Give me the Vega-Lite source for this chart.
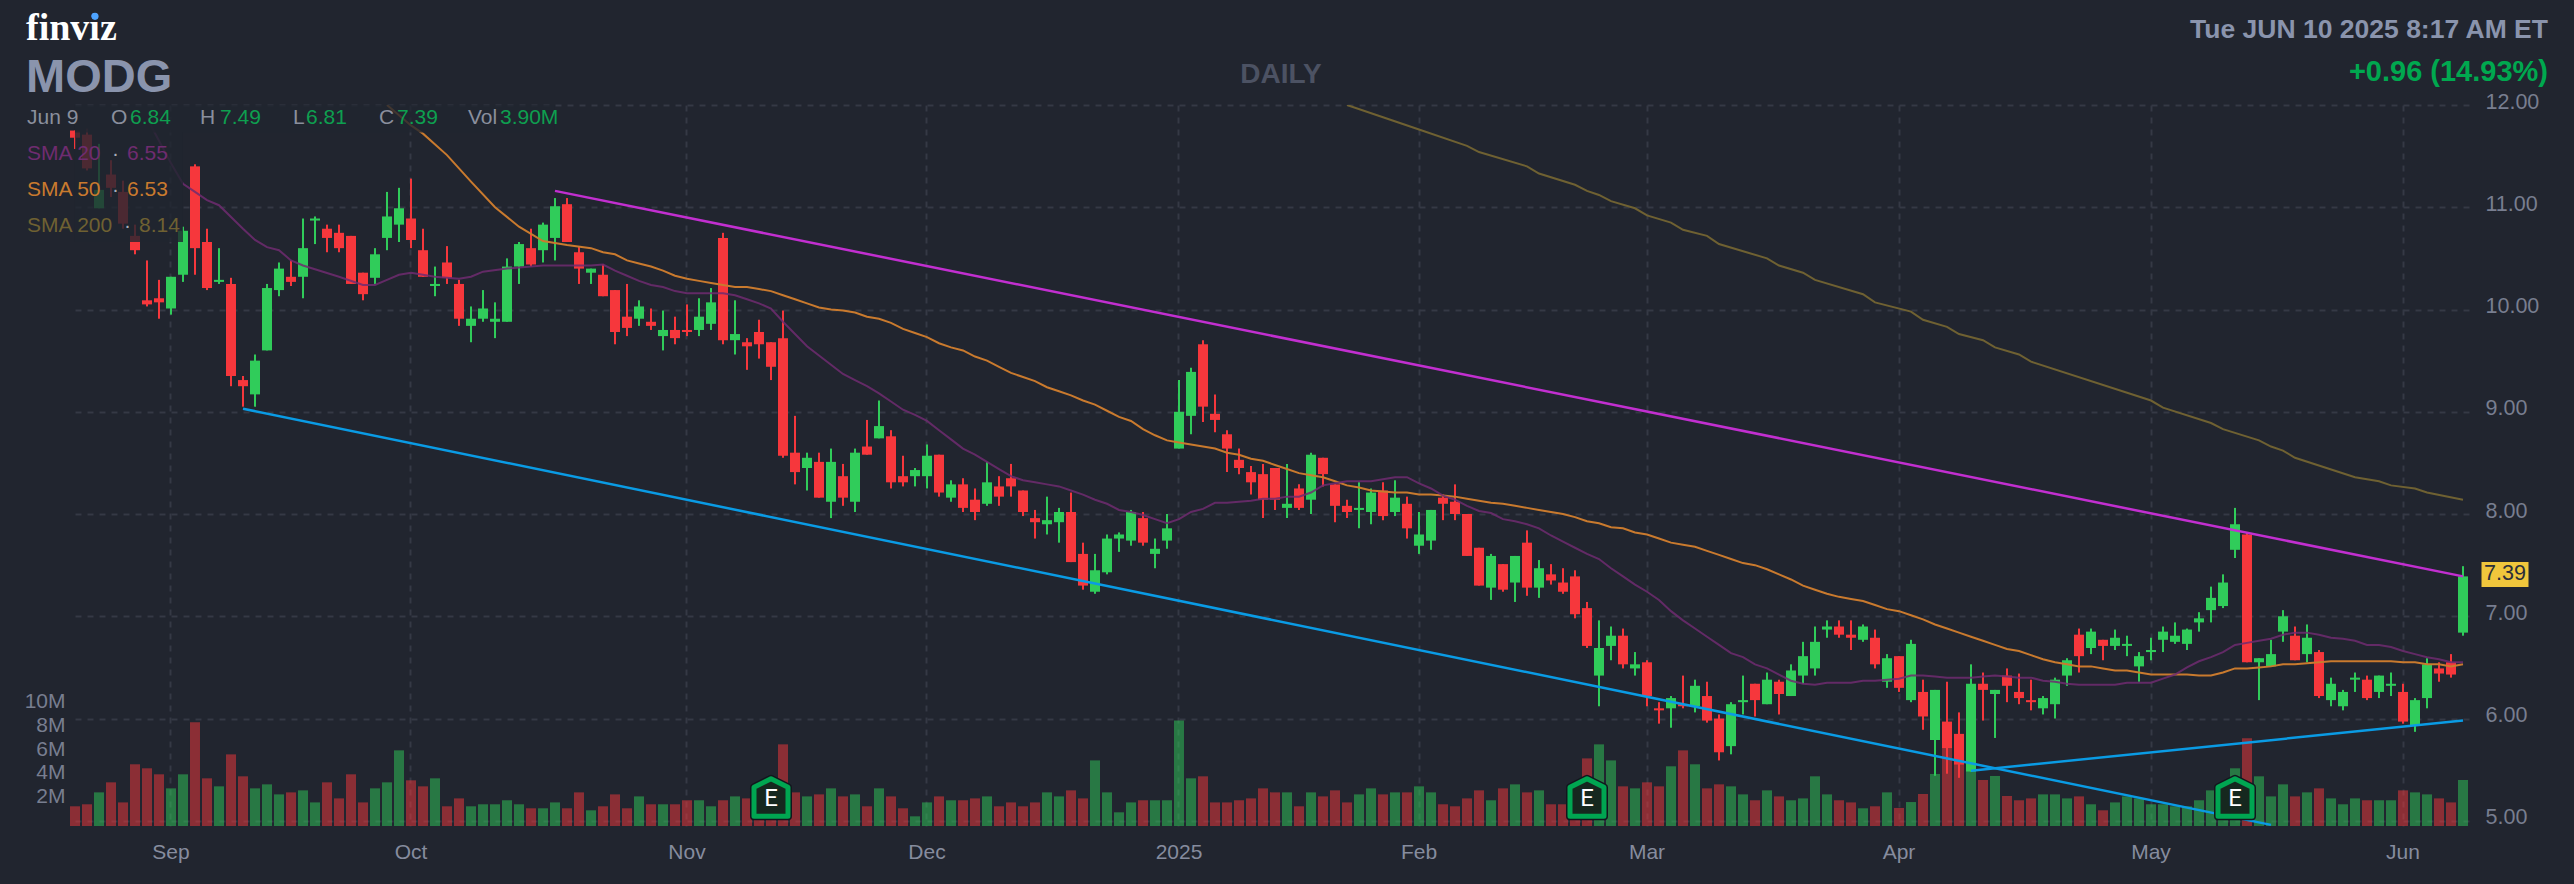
{
"$schema":"https://vega.github.io/schema/vega-lite/v6.json",
"description":"MODG daily candlestick chart with volume, moving averages and trend lines.",
"width":2400,"height":721,"autosize":{"type":"none"},
"padding":{"left":69,"top":105,"right":105,"bottom":58},
"background":"#21252f",
"config":{"view":{"stroke":null},"text":{"font":"Liberation Sans","baseline":"alphabetic"}},
"datasets":{"bars":[
{"date":"2024-08-21","o":11.75,"h":11.75,"l":11.57,"c":11.68,"v":1670000},
{"date":"2024-08-22","o":11.71,"h":11.77,"l":11.36,"c":11.38,"v":1840000},
{"date":"2024-08-23","o":10.99,"h":11.62,"l":10.99,"c":11.17,"v":2850000},
{"date":"2024-08-26","o":11.32,"h":11.46,"l":11.10,"c":11.19,"v":3700000},
{"date":"2024-08-27","o":11.15,"h":11.26,"l":10.79,"c":10.84,"v":2000000},
{"date":"2024-08-28","o":10.72,"h":10.83,"l":10.54,"c":10.58,"v":5230000},
{"date":"2024-08-29","o":10.09,"h":10.48,"l":10.03,"c":10.05,"v":4890000,"sma20":11.87},
{"date":"2024-08-30","o":10.11,"h":10.29,"l":9.91,"c":10.07,"v":4380000},
{"date":"2024-09-03","o":10.01,"h":10.32,"l":9.95,"c":10.32,"v":3190000,"sma20":11.43},
{"date":"2024-09-04","o":10.34,"h":10.81,"l":10.27,"c":10.77,"v":4380000,"sma20":11.23},
{"date":"2024-09-05","o":11.40,"h":11.42,"l":10.34,"c":10.60,"v":8790000,"sma20":11.15},
{"date":"2024-09-06","o":10.66,"h":10.79,"l":10.19,"c":10.21,"v":4040000,"sma20":11.07},
{"date":"2024-09-09","o":10.27,"h":10.60,"l":10.25,"c":10.29,"v":3360000,"sma20":11.02},
{"date":"2024-09-10","o":10.25,"h":10.31,"l":9.25,"c":9.35,"v":6070000},
{"date":"2024-09-11","o":9.31,"h":9.35,"l":9.05,"c":9.25,"v":4210000,"sma20":10.79},
{"date":"2024-09-12","o":9.17,"h":9.56,"l":9.05,"c":9.50,"v":3190000,"sma20":10.68},
{"date":"2024-09-13","o":9.60,"h":10.25,"l":9.60,"c":10.21,"v":3530000,"sma20":10.61},
{"date":"2024-09-16","o":10.19,"h":10.46,"l":10.13,"c":10.40,"v":2680000,"sma20":10.58},
{"date":"2024-09-17","o":10.32,"h":10.48,"l":10.23,"c":10.27,"v":2850000,"sma20":10.48},
{"date":"2024-09-18","o":10.32,"h":10.89,"l":10.11,"c":10.60,"v":3020000,"sma20":10.43},
{"date":"2024-09-19","o":10.87,"h":10.91,"l":10.64,"c":10.89,"v":2000000},
{"date":"2024-09-20","o":10.79,"h":10.83,"l":10.56,"c":10.70,"v":3700000},
{"date":"2024-09-23","o":10.75,"h":10.83,"l":10.56,"c":10.60,"v":2340000,"sma20":10.32},
{"date":"2024-09-24","o":10.72,"h":10.72,"l":10.25,"c":10.25,"v":4380000},
{"date":"2024-09-25","o":10.36,"h":10.36,"l":10.09,"c":10.15,"v":2000000,"sma20":10.24},
{"date":"2024-09-26","o":10.31,"h":10.60,"l":10.25,"c":10.54,"v":3190000,"sma20":10.24},
{"date":"2024-09-27","o":10.70,"h":11.15,"l":10.58,"c":10.91,"v":3700000,"sma20":10.29,"sma50":12.00},
{"date":"2024-09-30","o":10.83,"h":11.19,"l":10.66,"c":10.99,"v":6410000,"sma20":10.34},
{"date":"2024-10-01","o":10.89,"h":11.28,"l":10.60,"c":10.68,"v":3870000,"sma20":10.36,"sma50":11.80},
{"date":"2024-10-02","o":10.58,"h":10.79,"l":10.32,"c":10.32,"v":3360000,"sma50":11.72},
{"date":"2024-10-03","o":10.23,"h":10.42,"l":10.13,"c":10.25,"v":4040000,"sma20":10.32},
{"date":"2024-10-04","o":10.46,"h":10.62,"l":10.25,"c":10.31,"v":1670000,"sma50":11.51},
{"date":"2024-10-07","o":10.25,"h":10.29,"l":9.84,"c":9.91,"v":2340000,"sma20":10.30},
{"date":"2024-10-08","o":9.84,"h":10.03,"l":9.68,"c":9.91,"v":1670000,"sma20":10.32,"sma50":11.25},
{"date":"2024-10-09","o":9.91,"h":10.19,"l":9.88,"c":10.01,"v":1840000,"sma20":10.37},
{"date":"2024-10-10","o":9.88,"h":10.07,"l":9.72,"c":9.91,"v":1840000,"sma50":11.00},
{"date":"2024-10-11","o":9.88,"h":10.50,"l":9.88,"c":10.42,"v":2180000,"sma20":10.40},
{"date":"2024-10-14","o":10.42,"h":10.66,"l":10.25,"c":10.64,"v":1840000,"sma50":10.81},
{"date":"2024-10-15","o":10.60,"h":10.79,"l":10.42,"c":10.44,"v":1500000,"sma20":10.42},
{"date":"2024-10-16","o":10.58,"h":10.85,"l":10.46,"c":10.83,"v":1500000,"sma20":10.43,"sma50":10.67},
{"date":"2024-10-17","o":10.70,"h":11.09,"l":10.48,"c":11.01,"v":2000000},
{"date":"2024-10-18","o":11.03,"h":11.09,"l":10.66,"c":10.66,"v":1500000,"sma20":10.43,"sma50":10.63},
{"date":"2024-10-21","o":10.56,"h":10.62,"l":10.25,"c":10.40,"v":2850000},
{"date":"2024-10-22","o":10.36,"h":10.40,"l":10.25,"c":10.40,"v":1330000,"sma20":10.43,"sma50":10.60},
{"date":"2024-10-23","o":10.34,"h":10.44,"l":10.13,"c":10.13,"v":1670000,"sma20":10.44,"sma50":10.56},
{"date":"2024-10-24","o":10.19,"h":10.19,"l":9.66,"c":9.78,"v":2680000,"sma20":10.38,"sma50":10.54},
{"date":"2024-10-25","o":9.93,"h":10.25,"l":9.74,"c":9.82,"v":1500000,"sma20":10.33,"sma50":10.48},
{"date":"2024-10-28","o":9.91,"h":10.09,"l":9.84,"c":10.03,"v":2510000,"sma20":10.28,"sma50":10.45},
{"date":"2024-10-29","o":9.88,"h":10.01,"l":9.80,"c":9.84,"v":1840000,"sma20":10.24,"sma50":10.42},
{"date":"2024-10-30","o":9.74,"h":9.99,"l":9.60,"c":9.80,"v":1840000,"sma20":10.22,"sma50":10.38},
{"date":"2024-10-31","o":9.80,"h":9.93,"l":9.66,"c":9.72,"v":1840000,"sma20":10.18,"sma50":10.33},
{"date":"2024-11-01","o":9.80,"h":10.05,"l":9.74,"c":9.78,"v":2180000,"sma20":10.16,"sma50":10.30},
{"date":"2024-11-04","o":9.80,"h":10.11,"l":9.74,"c":9.93,"v":2180000,"sma20":10.16,"sma50":10.28},
{"date":"2024-11-05","o":9.86,"h":10.21,"l":9.80,"c":10.07,"v":1670000,"sma20":10.16,"sma50":10.26},
{"date":"2024-11-06","o":10.70,"h":10.75,"l":9.66,"c":9.70,"v":2180000,"sma20":10.16,"sma50":10.24},
{"date":"2024-11-07","o":9.70,"h":10.09,"l":9.56,"c":9.76,"v":2510000,"sma20":10.14,"sma50":10.22},
{"date":"2024-11-08","o":9.68,"h":9.72,"l":9.41,"c":9.64,"v":2340000,"sma20":10.10,"sma50":10.22},
{"date":"2024-11-11","o":9.78,"h":9.90,"l":9.52,"c":9.66,"v":2000000,"sma20":10.06,"sma50":10.20},
{"date":"2024-11-12","o":9.68,"h":9.68,"l":9.31,"c":9.44,"v":2200000,"sma20":10.01,"sma50":10.18},
{"date":"2024-11-13","o":9.72,"h":9.99,"l":8.55,"c":8.57,"v":6920000,"sma20":9.88,"sma50":10.14},
{"date":"2024-11-14","o":8.60,"h":8.96,"l":8.29,"c":8.41,"v":2850000,"sma20":9.76,"sma50":10.10},
{"date":"2024-11-15","o":8.45,"h":8.60,"l":8.23,"c":8.55,"v":2510000,"sma20":9.64,"sma50":10.06},
{"date":"2024-11-18","o":8.51,"h":8.60,"l":8.16,"c":8.16,"v":2680000,"sma20":9.55,"sma50":10.02},
{"date":"2024-11-19","o":8.12,"h":8.64,"l":7.96,"c":8.51,"v":3190000,"sma20":9.46,"sma50":10.00},
{"date":"2024-11-20","o":8.37,"h":8.49,"l":8.08,"c":8.16,"v":2510000,"sma20":9.37,"sma50":9.99},
{"date":"2024-11-21","o":8.12,"h":8.64,"l":8.02,"c":8.60,"v":2680000,"sma20":9.31,"sma50":9.97},
{"date":"2024-11-22","o":8.66,"h":8.92,"l":8.58,"c":8.58,"v":1670000,"sma20":9.25,"sma50":9.93},
{"date":"2024-11-25","o":8.74,"h":9.11,"l":8.74,"c":8.86,"v":3190000,"sma20":9.18,"sma50":9.91},
{"date":"2024-11-26","o":8.76,"h":8.82,"l":8.25,"c":8.31,"v":2510000,"sma20":9.10,"sma50":9.87},
{"date":"2024-11-27","o":8.37,"h":8.57,"l":8.27,"c":8.31,"v":1500000,"sma20":9.02,"sma50":9.81},
{"date":"2024-11-29","o":8.37,"h":8.45,"l":8.27,"c":8.43,"v":820000,"sma20":8.97,"sma50":9.77},
{"date":"2024-12-02","o":8.37,"h":8.68,"l":8.25,"c":8.57,"v":2000000,"sma20":8.91,"sma50":9.73},
{"date":"2024-12-03","o":8.58,"h":8.58,"l":8.17,"c":8.21,"v":2510000,"sma20":8.82,"sma50":9.67},
{"date":"2024-12-04","o":8.16,"h":8.33,"l":8.12,"c":8.29,"v":2180000,"sma20":8.73,"sma50":9.63},
{"date":"2024-12-05","o":8.29,"h":8.35,"l":8.02,"c":8.06,"v":2180000,"sma20":8.64,"sma50":9.60},
{"date":"2024-12-06","o":8.14,"h":8.25,"l":7.94,"c":8.02,"v":2340000,"sma20":8.58,"sma50":9.54},
{"date":"2024-12-09","o":8.10,"h":8.51,"l":8.08,"c":8.31,"v":2510000,"sma20":8.51,"sma50":9.50},
{"date":"2024-12-10","o":8.27,"h":8.37,"l":8.08,"c":8.17,"v":1670000,"sma20":8.44,"sma50":9.44},
{"date":"2024-12-11","o":8.35,"h":8.49,"l":8.17,"c":8.27,"v":2000000,"sma20":8.37,"sma50":9.38},
{"date":"2024-12-12","o":8.23,"h":8.23,"l":7.98,"c":8.02,"v":1670000,"sma20":8.33,"sma50":9.34},
{"date":"2024-12-13","o":7.96,"h":8.04,"l":7.76,"c":7.92,"v":2000000,"sma20":8.31,"sma50":9.30},
{"date":"2024-12-16","o":7.90,"h":8.17,"l":7.80,"c":7.94,"v":2850000,"sma20":8.29,"sma50":9.24},
{"date":"2024-12-17","o":7.92,"h":8.06,"l":7.72,"c":8.02,"v":2510000,"sma20":8.27,"sma50":9.20},
{"date":"2024-12-18","o":8.02,"h":8.21,"l":7.53,"c":7.53,"v":3020000,"sma20":8.23,"sma50":9.16},
{"date":"2024-12-19","o":7.61,"h":7.72,"l":7.26,"c":7.30,"v":2340000,"sma20":8.19,"sma50":9.11},
{"date":"2024-12-20","o":7.24,"h":7.61,"l":7.22,"c":7.45,"v":5560000,"sma20":8.14,"sma50":9.07},
{"date":"2024-12-23","o":7.43,"h":7.80,"l":7.41,"c":7.76,"v":2850000,"sma20":8.10,"sma50":9.01},
{"date":"2024-12-24","o":7.76,"h":7.82,"l":7.63,"c":7.80,"v":1160000,"sma20":8.04,"sma50":8.95},
{"date":"2024-12-26","o":7.74,"h":8.04,"l":7.69,"c":8.02,"v":2000000,"sma20":8.02,"sma50":8.91},
{"date":"2024-12-27","o":7.96,"h":8.02,"l":7.69,"c":7.72,"v":2180000,"sma20":7.99,"sma50":8.83},
{"date":"2024-12-30","o":7.61,"h":7.76,"l":7.47,"c":7.66,"v":2180000,"sma20":7.95,"sma50":8.77},
{"date":"2024-12-31","o":7.74,"h":8.00,"l":7.66,"c":7.86,"v":2180000,"sma20":7.91,"sma50":8.72},
{"date":"2025-01-02","o":8.64,"h":9.31,"l":8.64,"c":9.00,"v":8950000,"sma20":7.95,"sma50":8.70},
{"date":"2025-01-03","o":8.96,"h":9.43,"l":8.78,"c":9.39,"v":4040000,"sma20":8.02,"sma50":8.68},
{"date":"2025-01-06","o":9.66,"h":9.70,"l":8.90,"c":9.05,"v":4210000,"sma20":8.05,"sma50":8.66},
{"date":"2025-01-07","o":8.98,"h":9.17,"l":8.80,"c":8.92,"v":2000000,"sma20":8.11,"sma50":8.64},
{"date":"2025-01-08","o":8.78,"h":8.82,"l":8.41,"c":8.64,"v":2000000,"sma20":8.11,"sma50":8.60},
{"date":"2025-01-10","o":8.53,"h":8.64,"l":8.39,"c":8.45,"v":2180000,"sma20":8.12,"sma50":8.58},
{"date":"2025-01-13","o":8.41,"h":8.47,"l":8.19,"c":8.31,"v":2340000,"sma20":8.13,"sma50":8.54},
{"date":"2025-01-14","o":8.39,"h":8.49,"l":7.96,"c":8.14,"v":3190000,"sma20":8.15,"sma50":8.52},
{"date":"2025-01-15","o":8.45,"h":8.45,"l":8.04,"c":8.14,"v":2850000,"sma20":8.15,"sma50":8.48},
{"date":"2025-01-16","o":8.06,"h":8.49,"l":7.96,"c":8.10,"v":2850000,"sma20":8.17,"sma50":8.44},
{"date":"2025-01-17","o":8.25,"h":8.29,"l":8.04,"c":8.06,"v":1670000,"sma20":8.17,"sma50":8.40},
{"date":"2025-01-21","o":8.14,"h":8.60,"l":8.00,"c":8.58,"v":2850000,"sma20":8.21,"sma50":8.38},
{"date":"2025-01-22","o":8.55,"h":8.55,"l":8.27,"c":8.39,"v":2510000,"sma20":8.28,"sma50":8.36},
{"date":"2025-01-23","o":8.29,"h":8.29,"l":7.92,"c":8.08,"v":3020000,"sma20":8.30,"sma50":8.32},
{"date":"2025-01-24","o":8.08,"h":8.14,"l":7.96,"c":8.02,"v":2000000,"sma20":8.32,"sma50":8.28,"sma200":12.00},
{"date":"2025-01-27","o":8.04,"h":8.31,"l":7.86,"c":8.06,"v":2680000,"sma20":8.32,"sma50":8.26},
{"date":"2025-01-28","o":8.02,"h":8.25,"l":7.90,"c":8.21,"v":3190000,"sma20":8.32,"sma50":8.23},
{"date":"2025-01-29","o":8.23,"h":8.31,"l":7.94,"c":7.98,"v":2680000,"sma20":8.34,"sma50":8.22,"sma200":11.88},
{"date":"2025-01-30","o":8.02,"h":8.33,"l":7.98,"c":8.16,"v":2850000,"sma20":8.36,"sma50":8.21},
{"date":"2025-01-31","o":8.10,"h":8.17,"l":7.76,"c":7.86,"v":2850000,"sma20":8.36,"sma50":8.21},
{"date":"2025-02-03","o":7.69,"h":8.02,"l":7.61,"c":7.80,"v":3360000,"sma20":8.30,"sma50":8.19,"sma200":11.76},
{"date":"2025-02-04","o":7.74,"h":8.04,"l":7.65,"c":8.04,"v":2850000,"sma20":8.25,"sma50":8.19},
{"date":"2025-02-05","o":8.16,"h":8.19,"l":7.94,"c":8.10,"v":1840000,"sma20":8.18,"sma50":8.18},
{"date":"2025-02-06","o":8.12,"h":8.29,"l":7.94,"c":8.00,"v":1670000,"sma20":8.14,"sma50":8.17},
{"date":"2025-02-07","o":8.00,"h":8.00,"l":7.59,"c":7.59,"v":2340000,"sma20":8.08,"sma50":8.15,"sma200":11.60},
{"date":"2025-02-10","o":7.67,"h":7.67,"l":7.30,"c":7.30,"v":3020000,"sma20":8.03,"sma50":8.13,"sma200":11.54},
{"date":"2025-02-11","o":7.28,"h":7.61,"l":7.16,"c":7.59,"v":2180000,"sma20":8.01,"sma50":8.11},
{"date":"2025-02-12","o":7.51,"h":7.51,"l":7.24,"c":7.26,"v":3190000,"sma20":7.95,"sma50":8.10},
{"date":"2025-02-13","o":7.33,"h":7.59,"l":7.14,"c":7.59,"v":3530000,"sma20":7.93,"sma50":8.08},
{"date":"2025-02-14","o":7.72,"h":7.84,"l":7.20,"c":7.28,"v":2850000,"sma20":7.90,"sma50":8.06,"sma200":11.40},
{"date":"2025-02-18","o":7.28,"h":7.55,"l":7.18,"c":7.47,"v":3020000,"sma20":7.86,"sma50":8.04,"sma200":11.33},
{"date":"2025-02-19","o":7.41,"h":7.51,"l":7.31,"c":7.35,"v":1840000,"sma20":7.79,"sma50":8.02},
{"date":"2025-02-20","o":7.33,"h":7.47,"l":7.22,"c":7.24,"v":1840000,"sma20":7.73,"sma50":8.00},
{"date":"2025-02-21","o":7.39,"h":7.45,"l":6.98,"c":7.02,"v":2000000,"sma20":7.67,"sma50":7.97,"sma200":11.22},
{"date":"2025-02-24","o":7.08,"h":7.14,"l":6.69,"c":6.71,"v":5730000,"sma20":7.61,"sma50":7.93,"sma200":11.16},
{"date":"2025-02-25","o":6.42,"h":6.96,"l":6.12,"c":6.69,"v":6920000,"sma20":7.56,"sma50":7.91,"sma200":11.12},
{"date":"2025-02-26","o":6.71,"h":6.90,"l":6.57,"c":6.81,"v":5560000,"sma20":7.47,"sma50":7.87,"sma200":11.06},
{"date":"2025-02-27","o":6.81,"h":6.88,"l":6.49,"c":6.53,"v":3360000,"sma20":7.39,"sma50":7.86},
{"date":"2025-02-28","o":6.49,"h":6.65,"l":6.42,"c":6.53,"v":3190000,"sma20":7.31,"sma50":7.82,"sma200":10.99},
{"date":"2025-03-03","o":6.55,"h":6.57,"l":6.12,"c":6.22,"v":3700000,"sma20":7.24,"sma50":7.80,"sma200":10.92},
{"date":"2025-03-04","o":6.10,"h":6.16,"l":5.95,"c":6.08,"v":3360000,"sma20":7.16,"sma50":7.76},
{"date":"2025-03-05","o":6.10,"h":6.22,"l":5.91,"c":6.20,"v":5060000,"sma20":7.05,"sma50":7.72,"sma200":10.85},
{"date":"2025-03-06","o":6.14,"h":6.42,"l":6.10,"c":6.12,"v":6410000,"sma20":6.96,"sma50":7.70,"sma200":10.78},
{"date":"2025-03-07","o":6.12,"h":6.38,"l":6.06,"c":6.32,"v":5230000,"sma20":6.88,"sma50":7.68},
{"date":"2025-03-10","o":6.22,"h":6.36,"l":5.96,"c":5.98,"v":3190000,"sma20":6.80,"sma50":7.64,"sma200":10.72},
{"date":"2025-03-11","o":6.00,"h":6.04,"l":5.59,"c":5.67,"v":3530000,"sma20":6.72,"sma50":7.60,"sma200":10.64},
{"date":"2025-03-12","o":5.73,"h":6.16,"l":5.65,"c":6.14,"v":3360000,"sma20":6.64,"sma50":7.56},
{"date":"2025-03-13","o":6.16,"h":6.42,"l":6.04,"c":6.18,"v":2680000,"sma20":6.60,"sma50":7.52},
{"date":"2025-03-14","o":6.34,"h":6.34,"l":6.02,"c":6.18,"v":2180000,"sma20":6.53,"sma50":7.50},
{"date":"2025-03-17","o":6.14,"h":6.45,"l":6.14,"c":6.38,"v":3020000,"sma20":6.49,"sma50":7.46,"sma200":10.50},
{"date":"2025-03-18","o":6.36,"h":6.38,"l":6.04,"c":6.24,"v":2510000,"sma20":6.43,"sma50":7.41,"sma200":10.43},
{"date":"2025-03-19","o":6.22,"h":6.53,"l":6.22,"c":6.47,"v":2180000,"sma20":6.37,"sma50":7.36},
{"date":"2025-03-20","o":6.42,"h":6.75,"l":6.34,"c":6.61,"v":2340000,"sma20":6.34,"sma50":7.30,"sma200":10.36},
{"date":"2025-03-21","o":6.49,"h":6.90,"l":6.42,"c":6.75,"v":4210000,"sma20":6.33,"sma50":7.26,"sma200":10.29},
{"date":"2025-03-24","o":6.87,"h":6.96,"l":6.79,"c":6.90,"v":2680000,"sma20":6.35,"sma50":7.22},
{"date":"2025-03-25","o":6.90,"h":6.96,"l":6.79,"c":6.82,"v":2180000,"sma20":6.35,"sma50":7.19},
{"date":"2025-03-26","o":6.82,"h":6.96,"l":6.67,"c":6.79,"v":2000000,"sma20":6.35,"sma50":7.17},
{"date":"2025-03-27","o":6.77,"h":6.92,"l":6.75,"c":6.90,"v":1500000,"sma20":6.37,"sma50":7.15,"sma200":10.15},
{"date":"2025-03-28","o":6.79,"h":6.87,"l":6.49,"c":6.53,"v":1670000,"sma20":6.37,"sma50":7.11,"sma200":10.07},
{"date":"2025-03-31","o":6.36,"h":6.63,"l":6.30,"c":6.59,"v":2850000,"sma20":6.38,"sma50":7.07},
{"date":"2025-04-01","o":6.61,"h":6.61,"l":6.26,"c":6.30,"v":1530000,"sma20":6.39,"sma50":7.05},
{"date":"2025-04-02","o":6.18,"h":6.77,"l":6.16,"c":6.73,"v":2030000,"sma20":6.42,"sma50":7.01,"sma200":9.98},
{"date":"2025-04-03","o":6.26,"h":6.38,"l":5.89,"c":6.02,"v":2710000,"sma20":6.42,"sma50":6.97,"sma200":9.90},
{"date":"2025-04-04","o":5.79,"h":6.28,"l":5.44,"c":6.28,"v":4410000,"sma20":6.41,"sma50":6.92},
{"date":"2025-04-07","o":5.97,"h":6.36,"l":5.46,"c":5.71,"v":6600000,"sma20":6.40,"sma50":6.88,"sma200":9.83},
{"date":"2025-04-08","o":5.85,"h":6.06,"l":5.42,"c":5.55,"v":6800000,"sma20":6.40,"sma50":6.84,"sma200":9.76},
{"date":"2025-04-09","o":5.48,"h":6.53,"l":5.48,"c":6.34,"v":4580000,"sma20":6.40,"sma50":6.80},
{"date":"2025-04-10","o":6.34,"h":6.45,"l":5.98,"c":6.28,"v":3900000,"sma20":6.41,"sma50":6.76,"sma200":9.70},
{"date":"2025-04-11","o":6.24,"h":6.28,"l":5.81,"c":6.28,"v":4240000,"sma20":6.42,"sma50":6.72,"sma200":9.63},
{"date":"2025-04-14","o":6.42,"h":6.49,"l":6.16,"c":6.32,"v":2540000,"sma20":6.41,"sma50":6.68},
{"date":"2025-04-15","o":6.26,"h":6.44,"l":6.14,"c":6.20,"v":2180000,"sma20":6.40,"sma50":6.66,"sma200":9.56},
{"date":"2025-04-16","o":6.18,"h":6.38,"l":6.08,"c":6.16,"v":2340000,"sma20":6.40,"sma50":6.62,"sma200":9.49},
{"date":"2025-04-17","o":6.10,"h":6.22,"l":6.04,"c":6.20,"v":2680000,"sma20":6.37,"sma50":6.58},
{"date":"2025-04-21","o":6.14,"h":6.40,"l":6.00,"c":6.38,"v":2680000,"sma20":6.36,"sma50":6.55},
{"date":"2025-04-22","o":6.42,"h":6.59,"l":6.32,"c":6.57,"v":2340000,"sma20":6.34,"sma50":6.53},
{"date":"2025-04-23","o":6.82,"h":6.88,"l":6.45,"c":6.61,"v":2510000,"sma20":6.33,"sma50":6.51},
{"date":"2025-04-24","o":6.69,"h":6.88,"l":6.63,"c":6.85,"v":1840000,"sma20":6.33,"sma50":6.51},
{"date":"2025-04-25","o":6.77,"h":6.77,"l":6.57,"c":6.71,"v":1330000,"sma20":6.33,"sma50":6.49},
{"date":"2025-04-28","o":6.71,"h":6.87,"l":6.67,"c":6.79,"v":2000000,"sma20":6.33,"sma50":6.47},
{"date":"2025-04-29","o":6.71,"h":6.81,"l":6.61,"c":6.73,"v":2510000,"sma20":6.35,"sma50":6.47},
{"date":"2025-04-30","o":6.51,"h":6.65,"l":6.36,"c":6.61,"v":2340000,"sma20":6.35,"sma50":6.45},
{"date":"2025-05-01","o":6.65,"h":6.79,"l":6.57,"c":6.67,"v":1840000,"sma20":6.35,"sma50":6.43,"sma200":9.11},
{"date":"2025-05-02","o":6.77,"h":6.90,"l":6.65,"c":6.85,"v":1840000,"sma20":6.39,"sma50":6.43,"sma200":9.04},
{"date":"2025-05-05","o":6.75,"h":6.94,"l":6.73,"c":6.81,"v":1670000,"sma20":6.43,"sma50":6.43},
{"date":"2025-05-06","o":6.73,"h":6.88,"l":6.67,"c":6.87,"v":1670000,"sma20":6.50,"sma50":6.43},
{"date":"2025-05-07","o":6.94,"h":7.04,"l":6.85,"c":6.98,"v":2180000,"sma20":6.56,"sma50":6.42},
{"date":"2025-05-08","o":7.06,"h":7.29,"l":6.94,"c":7.18,"v":3020000,"sma20":6.60,"sma50":6.42,"sma200":8.89},
{"date":"2025-05-09","o":7.10,"h":7.41,"l":7.08,"c":7.33,"v":2340000,"sma20":6.65,"sma50":6.45,"sma200":8.83},
{"date":"2025-05-12","o":7.65,"h":8.06,"l":7.57,"c":7.90,"v":4890000,"sma20":6.72,"sma50":6.49},
{"date":"2025-05-13","o":7.80,"h":7.82,"l":6.55,"c":6.55,"v":7430000,"sma20":6.74,"sma50":6.49},
{"date":"2025-05-14","o":6.55,"h":6.59,"l":6.18,"c":6.59,"v":4210000,"sma20":6.76,"sma50":6.50,"sma200":8.72},
{"date":"2025-05-15","o":6.51,"h":6.77,"l":6.51,"c":6.63,"v":2510000,"sma20":6.78,"sma50":6.51,"sma200":8.66},
{"date":"2025-05-16","o":6.85,"h":7.06,"l":6.75,"c":7.00,"v":3530000,"sma20":6.82,"sma50":6.53,"sma200":8.62},
{"date":"2025-05-19","o":6.81,"h":6.90,"l":6.57,"c":6.57,"v":2510000,"sma20":6.84,"sma50":6.53,"sma200":8.55},
{"date":"2025-05-20","o":6.63,"h":6.92,"l":6.55,"c":6.79,"v":2850000,"sma20":6.84,"sma50":6.54},
{"date":"2025-05-21","o":6.65,"h":6.67,"l":6.20,"c":6.22,"v":3190000,"sma20":6.82,"sma50":6.55},
{"date":"2025-05-22","o":6.18,"h":6.40,"l":6.12,"c":6.34,"v":2340000,"sma20":6.79,"sma50":6.56},
{"date":"2025-05-23","o":6.12,"h":6.28,"l":6.08,"c":6.26,"v":1840000,"sma20":6.78,"sma50":6.56},
{"date":"2025-05-27","o":6.38,"h":6.45,"l":6.26,"c":6.40,"v":2340000,"sma20":6.76,"sma50":6.56,"sma200":8.36},
{"date":"2025-05-28","o":6.38,"h":6.42,"l":6.18,"c":6.20,"v":2180000,"sma20":6.72,"sma50":6.56},
{"date":"2025-05-29","o":6.26,"h":6.42,"l":6.20,"c":6.42,"v":2180000,"sma20":6.72,"sma50":6.56,"sma200":8.32},
{"date":"2025-05-30","o":6.32,"h":6.45,"l":6.22,"c":6.34,"v":2180000,"sma20":6.70,"sma50":6.56,"sma200":8.28},
{"date":"2025-06-02","o":6.26,"h":6.34,"l":5.95,"c":5.97,"v":3020000,"sma20":6.66,"sma50":6.55},
{"date":"2025-06-03","o":5.93,"h":6.20,"l":5.87,"c":6.18,"v":2850000,"sma20":6.63,"sma50":6.55,"sma200":8.25},
{"date":"2025-06-04","o":6.20,"h":6.59,"l":6.10,"c":6.53,"v":2680000,"sma20":6.60,"sma50":6.53,"sma200":8.21},
{"date":"2025-06-05","o":6.49,"h":6.55,"l":6.36,"c":6.44,"v":2340000,"sma20":6.58,"sma50":6.53},
{"date":"2025-06-06","o":6.55,"h":6.63,"l":6.40,"c":6.43,"v":2000000,"sma20":6.55,"sma50":6.51},
{"date":"2025-06-09","o":6.84,"h":7.49,"l":6.81,"c":7.39,"v":3900000,"sma20":6.55,"sma50":6.53,"sma200":8.14}
]},
"encoding":{"x":{"field":"date","type":"ordinal","title":null,
"scale":{"paddingInner":0.1667,"paddingOuter":0.0833},
"axis":{"values":["2024-09-03","2024-10-01","2024-11-01","2024-12-02","2025-01-02","2025-02-03","2025-03-03","2025-04-01","2025-05-01","2025-06-02"],
"labelExpr":"{'2024-09-03':'Sep','2024-10-01':'Oct','2024-11-01':'Nov','2024-12-02':'Dec','2025-01-02':'2025','2025-02-03':'Feb','2025-03-03':'Mar','2025-04-01':'Apr','2025-05-01':'May','2025-06-02':'Jun'}[datum.value]",
"domain":false,"ticks":false,"labelAngle":0,"labelFont":"Liberation Sans","labelFontSize":21,"labelColor":"#868c9e","labelPadding":15,"labelOverlap":false,
"grid":true,"gridDash":[6,6],"gridWidth":2,"gridColor":"#353945"}}},
"layer":[
{"data":{"name":"bars"},"mark":{"type":"bar","opacity":0.5},
"encoding":{"y":{"field":"v","type":"quantitative","title":null,"scale":{"domain":[0,61100000],"nice":false},
"axis":{"orient":"left","values":[2000000,4000000,6000000,8000000,10000000],"labelExpr":"(datum.value/1000000)+'M'","domain":false,"ticks":false,"grid":false,"labelFont":"Liberation Sans","labelFontSize":21,"labelColor":"#787e90","labelPadding":4,"labelOffset":-6,"labelOverlap":false}},
"color":{"condition":{"test":"datum.c>=datum.o","value":"#30cc5a"},"value":"#f6373c"}}},
{"layer":[
{"data":{"name":"bars"},"mark":{"type":"rule","strokeWidth":2},
"encoding":{"y":{"field":"l","type":"quantitative","title":null,"scale":{"domain":[4.949,12],"nice":false,"zero":false},
"axis":{"orient":"right","values":[5,6,7,8,9,10,11,12],"format":".2f","domain":false,"ticks":false,"labelFont":"Liberation Sans","labelFontSize":21.5,"labelColor":"#787e90","labelPadding":16,"labelOffset":-3,"labelOverlap":false,"labelFlush":false,"grid":true,"gridDash":[6,6],"gridWidth":2,"gridColor":"#353945"}},
"y2":{"field":"h"},
"color":{"condition":{"test":"datum.c>=datum.o","value":"#30cc5a"},"value":"#f6373c"}}},
{"data":{"name":"bars"},"mark":{"type":"bar"},
"encoding":{"y":{"field":"o","type":"quantitative","title":null},"y2":{"field":"c"},
"color":{"condition":{"test":"datum.c>=datum.o","value":"#30cc5a"},"value":"#f6373c"}}},
{"data":{"name":"bars"},"transform":[{"filter":"isValid(datum.sma200)"}],"mark":{"type":"line","strokeWidth":2,"color":"#6f6132","clip":true},"encoding":{"y":{"field":"sma200","type":"quantitative","title":null}}},
{"data":{"name":"bars"},"transform":[{"filter":"isValid(datum.sma50)"}],"mark":{"type":"line","strokeWidth":2,"color":"#c97a2e","clip":true},"encoding":{"y":{"field":"sma50","type":"quantitative","title":null}}},
{"data":{"name":"bars"},"transform":[{"filter":"isValid(datum.sma20)"}],"mark":{"type":"line","strokeWidth":2,"color":"#6f2c70","opacity":0.85,"clip":true},"encoding":{"y":{"field":"sma20","type":"quantitative","title":null}}},
{"data":{"values":[{"date":"2024-10-17","price":11.16},{"date":"2025-06-09","price":7.39}]},"mark":{"type":"line","strokeWidth":2.5,"color":"#c22fd0"},"encoding":{"y":{"field":"price","type":"quantitative","title":null}}},
{"data":{"values":[{"date":"2024-09-11","price":9.03},{"date":"2025-05-15","price":4.96}]},"mark":{"type":"line","strokeWidth":2.5,"color":"#0a9be4"},"encoding":{"y":{"field":"price","type":"quantitative","title":null}}},
{"data":{"values":[{"date":"2025-04-09","price":5.49},{"date":"2025-06-09","price":5.98}]},"mark":{"type":"line","strokeWidth":2.5,"color":"#0a9be4"},"encoding":{"y":{"field":"price","type":"quantitative","title":null}}},
{"data":{"values":[{"date":"2024-11-12","price":5.22},{"date":"2025-02-24","price":5.22},{"date":"2025-05-12","price":5.22}]},"encoding":{"y":{"field":"price","type":"quantitative","title":null}},
"layer":[
{"mark":{"type":"point","shape":"M0,-1.15L1,-0.65L1,1.05L-1,1.05L-1,-0.65Z","size":1156,"filled":true,"fill":"#16281f","stroke":"#12161d","strokeWidth":8,"strokeJoin":"round","opacity":1}},
{"mark":{"type":"point","shape":"M0,-1.15L1,-0.65L1,1.05L-1,1.05L-1,-0.65Z","size":1156,"filled":true,"fill":"#16281f","stroke":"#00a651","strokeWidth":5,"strokeJoin":"round","opacity":1}},
{"mark":{"type":"text","text":"E","font":"Roboto","fontSize":24,"color":"#ffffff","baseline":"middle","yOffset":1}}
]},
{"data":{"values":[{"date":"2024-08-21","end":"2024-09-04","top":11.87,"bottom":10.66},{"date":"2024-08-21","end":"2024-10-17","top":12,"bottom":11.73}]},"mark":{"type":"rect","color":"#21252f","opacity":0.8},
"encoding":{"x2":{"field":"end"},"y":{"field":"top","type":"quantitative","title":null},"y2":{"field":"bottom"}}},
{"data":{"values":[{"date":"2025-06-09","price":7.39}]},"encoding":{"y":{"field":"price","type":"quantitative","title":null}},
"layer":[
{"mark":{"type":"tick","orient":"horizontal","size":47,"thickness":25,"color":"#f0c63c","opacity":1,"xOffset":42,"yOffset":-2}},
{"mark":{"type":"text","text":"7.39","fontSize":21.5,"color":"#2b2f3a","xOffset":42,"yOffset":-2,"baseline":"middle"}}
]},
{"encoding":{"y":{"field":"price","type":"quantitative","title":null},"text":{"field":"label"}},
"layer":[
{"data":{"values":[{"date":"2024-08-21","price":12.632,"label":"finviz"}]},"mark":{"type":"text","font":"Liberation Serif","fontWeight":"bold","fontSize":38,"color":"#ffffff","align":"left","dx":-49}},
{"data":{"values":[{"date":"2024-08-21","price":12.867}]},"mark":{"type":"point","filled":true,"size":50,"color":"#4da3ff","opacity":1,"xOffset":20}},
{"data":{"values":[{"date":"2024-08-21","price":12.124,"label":"MODG"}]},"mark":{"type":"text","fontWeight":"bold","fontSize":47,"color":"#8a94ad","align":"left","dx":-49}},
{"data":{"values":[{"date":"2025-01-15","price":12.22,"label":"DAILY"}]},"mark":{"type":"text","fontWeight":"bold","fontSize":28,"color":"#4c5263","dx":6}},
{"data":{"values":[{"date":"2025-06-09","price":12.652,"label":"Tue JUN 10 2025 8:17 AM ET"}]},"mark":{"type":"text","fontWeight":"bold","fontSize":26.5,"color":"#8a94ad","align":"right","dx":85}},
{"data":{"values":[{"date":"2025-06-09","price":12.23,"label":"+0.96 (14.93%)"}]},"mark":{"type":"text","fontWeight":"bold","fontSize":29,"color":"#00a84f","align":"right","dx":85}},
{"data":{"values":[{"date":"2024-08-21","price":11.81,"label":"Jun 9"}]},"mark":{"type":"text","fontSize":21,"color":"#8a8f9d","align":"left","dx":-48}},
{"data":{"values":[{"date":"2024-08-21","price":11.81,"label":"O"}]},"mark":{"type":"text","fontSize":21,"color":"#8a8f9d","align":"left","dx":36}},
{"data":{"values":[{"date":"2024-08-21","price":11.81,"label":"6.84"}]},"mark":{"type":"text","fontSize":21,"color":"#0e9f4f","align":"left","dx":55}},
{"data":{"values":[{"date":"2024-08-21","price":11.81,"label":"H"}]},"mark":{"type":"text","fontSize":21,"color":"#8a8f9d","align":"left","dx":125}},
{"data":{"values":[{"date":"2024-08-21","price":11.81,"label":"7.49"}]},"mark":{"type":"text","fontSize":21,"color":"#0e9f4f","align":"left","dx":145}},
{"data":{"values":[{"date":"2024-08-21","price":11.81,"label":"L"}]},"mark":{"type":"text","fontSize":21,"color":"#8a8f9d","align":"left","dx":218}},
{"data":{"values":[{"date":"2024-08-21","price":11.81,"label":"6.81"}]},"mark":{"type":"text","fontSize":21,"color":"#0e9f4f","align":"left","dx":231}},
{"data":{"values":[{"date":"2024-08-21","price":11.81,"label":"C"}]},"mark":{"type":"text","fontSize":21,"color":"#8a8f9d","align":"left","dx":304}},
{"data":{"values":[{"date":"2024-08-21","price":11.81,"label":"7.39"}]},"mark":{"type":"text","fontSize":21,"color":"#0e9f4f","align":"left","dx":322}},
{"data":{"values":[{"date":"2024-08-21","price":11.81,"label":"Vol"}]},"mark":{"type":"text","fontSize":21,"color":"#8a8f9d","align":"left","dx":393}},
{"data":{"values":[{"date":"2024-08-21","price":11.81,"label":"3.90M"}]},"mark":{"type":"text","fontSize":21,"color":"#0e9f4f","align":"left","dx":425}},
{"data":{"values":[{"date":"2024-08-21","price":11.46,"label":"SMA 20"}]},"mark":{"type":"text","fontSize":21,"color":"#6f2c70","align":"left","dx":-48}},
{"data":{"values":[{"date":"2024-08-21","price":11.46,"label":"·"}]},"mark":{"type":"text","fontSize":21,"color":"#a9adb8","align":"left","dx":37}},
{"data":{"values":[{"date":"2024-08-21","price":11.46,"label":"6.55"}]},"mark":{"type":"text","fontSize":21,"color":"#6f2c70","align":"left","dx":52}},
{"data":{"values":[{"date":"2024-08-21","price":11.11,"label":"SMA 50"}]},"mark":{"type":"text","fontSize":21,"color":"#c97a2e","align":"left","dx":-48}},
{"data":{"values":[{"date":"2024-08-21","price":11.11,"label":"·"}]},"mark":{"type":"text","fontSize":21,"color":"#a9adb8","align":"left","dx":37}},
{"data":{"values":[{"date":"2024-08-21","price":11.11,"label":"6.53"}]},"mark":{"type":"text","fontSize":21,"color":"#c97a2e","align":"left","dx":52}},
{"data":{"values":[{"date":"2024-08-21","price":10.76,"label":"SMA 200"}]},"mark":{"type":"text","fontSize":21,"color":"#6f6132","align":"left","dx":-48}},
{"data":{"values":[{"date":"2024-08-21","price":10.76,"label":"·"}]},"mark":{"type":"text","fontSize":21,"color":"#a9adb8","align":"left","dx":49}},
{"data":{"values":[{"date":"2024-08-21","price":10.76,"label":"8.14"}]},"mark":{"type":"text","fontSize":21,"color":"#6f6132","align":"left","dx":64}}
]}
]}
],
"resolve":{"scale":{"y":"independent"},"axis":{"y":"independent"}}
}
